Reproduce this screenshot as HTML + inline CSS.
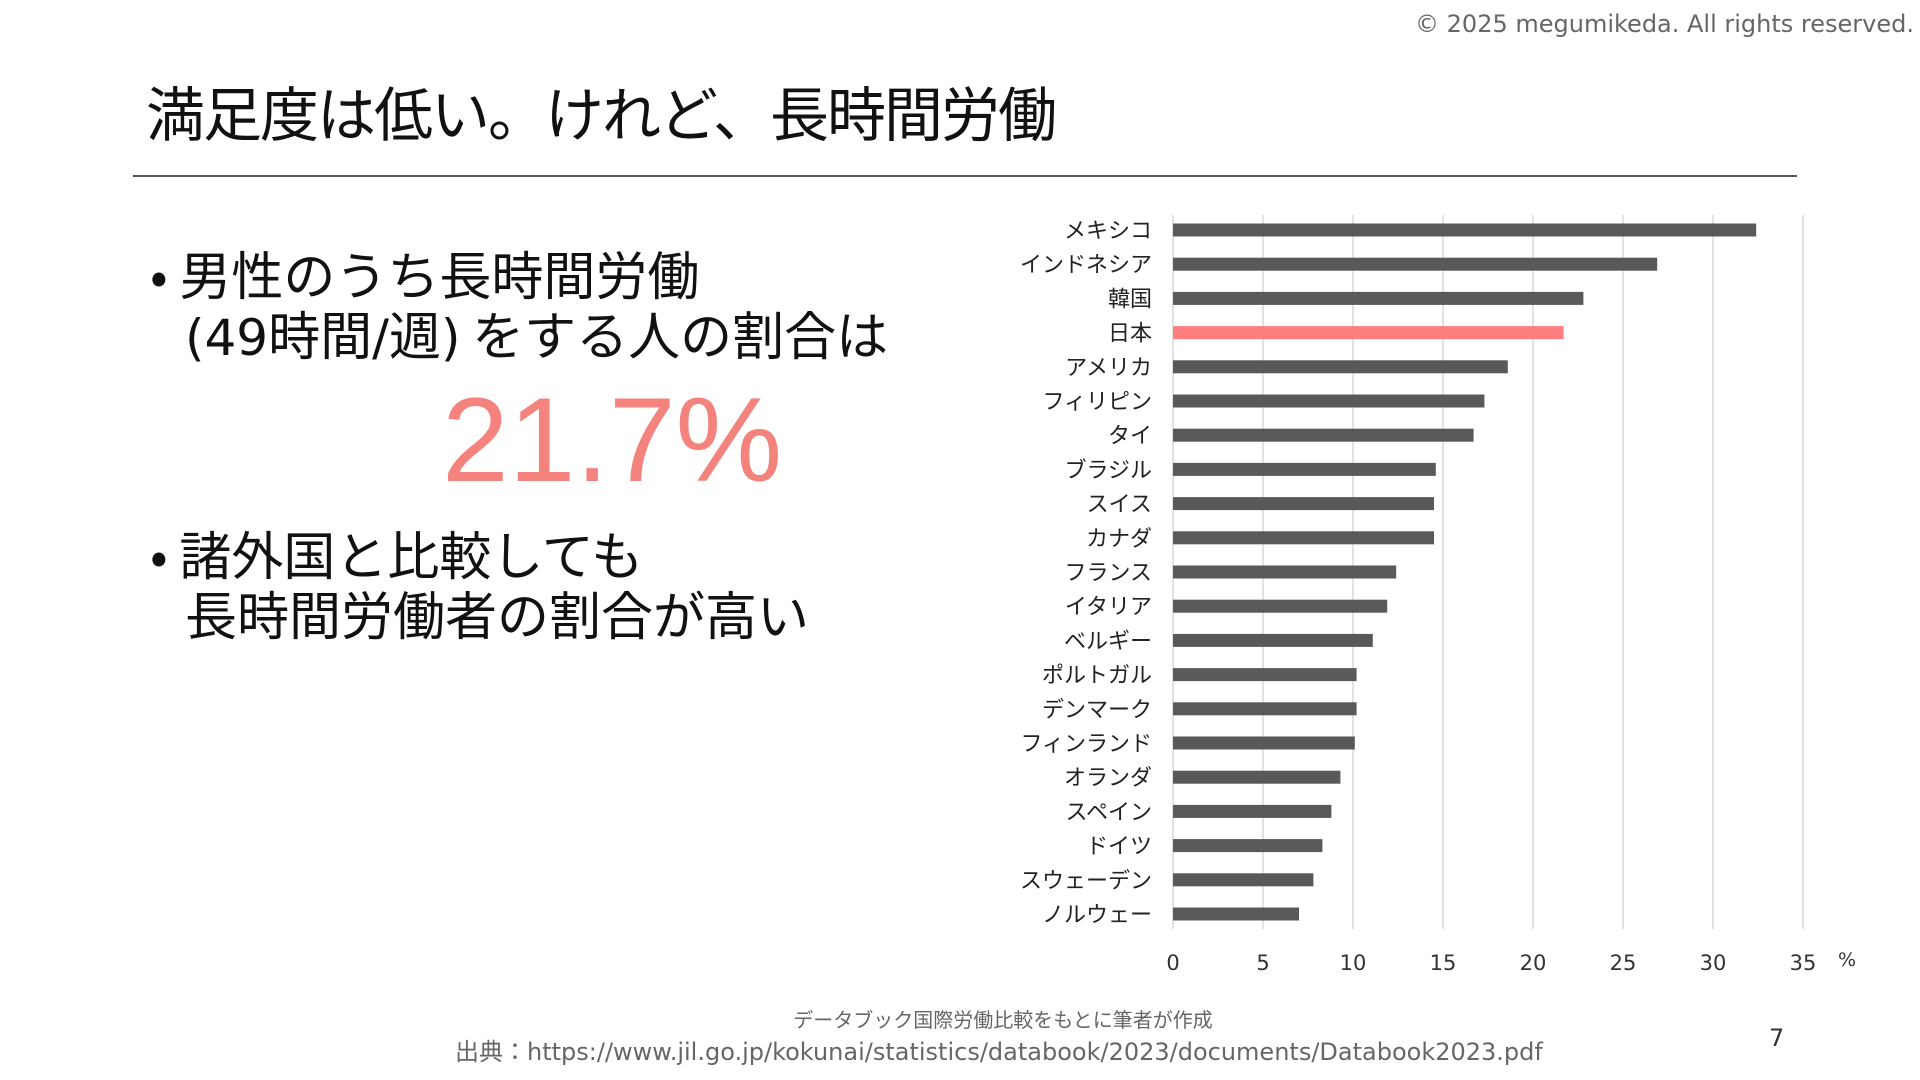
<!DOCTYPE html>
<html><head><meta charset="utf-8"><style>
html,body{margin:0;padding:0;background:#fff;}
body{width:1920px;height:1080px;position:relative;overflow:hidden;font-family:"Liberation Sans","Noto Sans CJK JP",sans-serif;color:#111;}
.t{position:absolute;white-space:nowrap;line-height:1;}
</style></head><body>
<div class="t" style="right:6px;top:12px;font-size:24px;color:#666;font-family:'DejaVu Sans',sans-serif;">© 2025 megumikeda. All rights reserved.</div>
<div class="t" style="left:146px;top:81px;font-size:59px;letter-spacing:-2px;font-family:'Noto Sans CJK JP',sans-serif;">満足度は低い。けれど、長時間労働</div>
<div style="position:absolute;left:133px;top:175px;width:1664px;height:2px;background:#555;width:1664px;"></div>
<div class="t" style="left:150px;top:243px;font-size:52px;font-family:'Noto Sans CJK JP',sans-serif;line-height:60px;">•&nbsp;男性のうち長時間労働<br>&nbsp;&nbsp;&nbsp;<span style="font-family:'DejaVu Sans','Noto Sans CJK JP',sans-serif;font-size:50px;">(49</span>時間<span style="font-family:'DejaVu Sans',sans-serif;font-size:50px;">/</span>週<span style="font-family:'DejaVu Sans',sans-serif;font-size:50px;">)</span> をする人の割合は</div>
<div class="t" style="left:442px;top:380px;font-size:120px;color:#F4837D;">21.7%</div>
<div class="t" style="left:150px;top:523px;font-size:52px;font-family:'Noto Sans CJK JP',sans-serif;line-height:60px;">•&nbsp;諸外国と比較しても<br>&nbsp;&nbsp;&nbsp;長時間労働者の割合が高い</div>
<div class="t" style="left:1003px;top:1011px;transform:translateX(-50%);font-size:20px;color:#666;">データブック国際労働比較をもとに筆者が作成</div>
<div class="t" style="left:455px;top:1040px;font-size:24px;color:#666;font-family:'DejaVu Sans','Noto Sans CJK JP',sans-serif;">出典：https://www.jil.go.jp/kokunai/statistics/databook/2023/documents/Databook2023.pdf</div>
<div class="t" style="left:1769px;top:1026px;font-size:24px;color:#333;font-family:'DejaVu Sans',sans-serif;">7</div>
<svg id="chart" width="1920" height="1080" style="position:absolute;left:0;top:0;"></svg>
<script>
const categories=["メキシコ","インドネシア","韓国","日本","アメリカ","フィリピン","タイ","ブラジル","スイス","カナダ","フランス","イタリア","ベルギー","ポルトガル","デンマーク","フィンランド","オランダ","スペイン","ドイツ","スウェーデン","ノルウェー"];
const values=[32.4,26.9,22.8,21.7,18.6,17.3,16.7,14.6,14.5,14.5,12.4,11.9,11.1,10.2,10.2,10.1,9.3,8.8,8.3,7.8,7.0];
const highlight="日本";
const ticks=[0,5,10,15,20,25,30,35];
const svg=document.getElementById('chart');
const NS='http://www.w3.org/2000/svg';
const x0=1173,x1=1803,xmax=35;
const xs=v=>x0+(x1-x0)*v/xmax;
const yTop=230,step=34.2;
const ys=i=>yTop+i*step;
function mk(tag,attrs){const e=document.createElementNS(NS,tag);for(const k in attrs)e.setAttribute(k,attrs[k]);svg.appendChild(e);return e;}
ticks.forEach(t=>{
  const g=mk('line',{x1:xs(t),x2:xs(t),y1:215,y2:929,stroke:'#d9d9d9','stroke-width':1.5});
  
  
  const l=mk('text',{x:xs(t),y:970,'text-anchor':'middle','font-size':21,fill:'#333','font-family':'DejaVu Sans, sans-serif'});
  l.textContent=t;
  
  
});
const pct=mk('text',{x:1838,y:966,'font-size':19,fill:'#333','font-family':'DejaVu Sans, sans-serif'});
pct.textContent='%';


categories.forEach((c,i)=>{
  const b=mk('rect',{x:xs(0),y:ys(i)-6.5,width:xs(values[i])-xs(0),height:13,fill:c===highlight?'#FF7F7F':'#595959'});
  
  
  const t=mk('text',{x:1152,y:ys(i)+8,'text-anchor':'end','font-size':22,fill:'#222','font-family':'Noto Sans CJK JP, sans-serif'});
  t.textContent=c;
  
  
});
</script>
</body></html>
